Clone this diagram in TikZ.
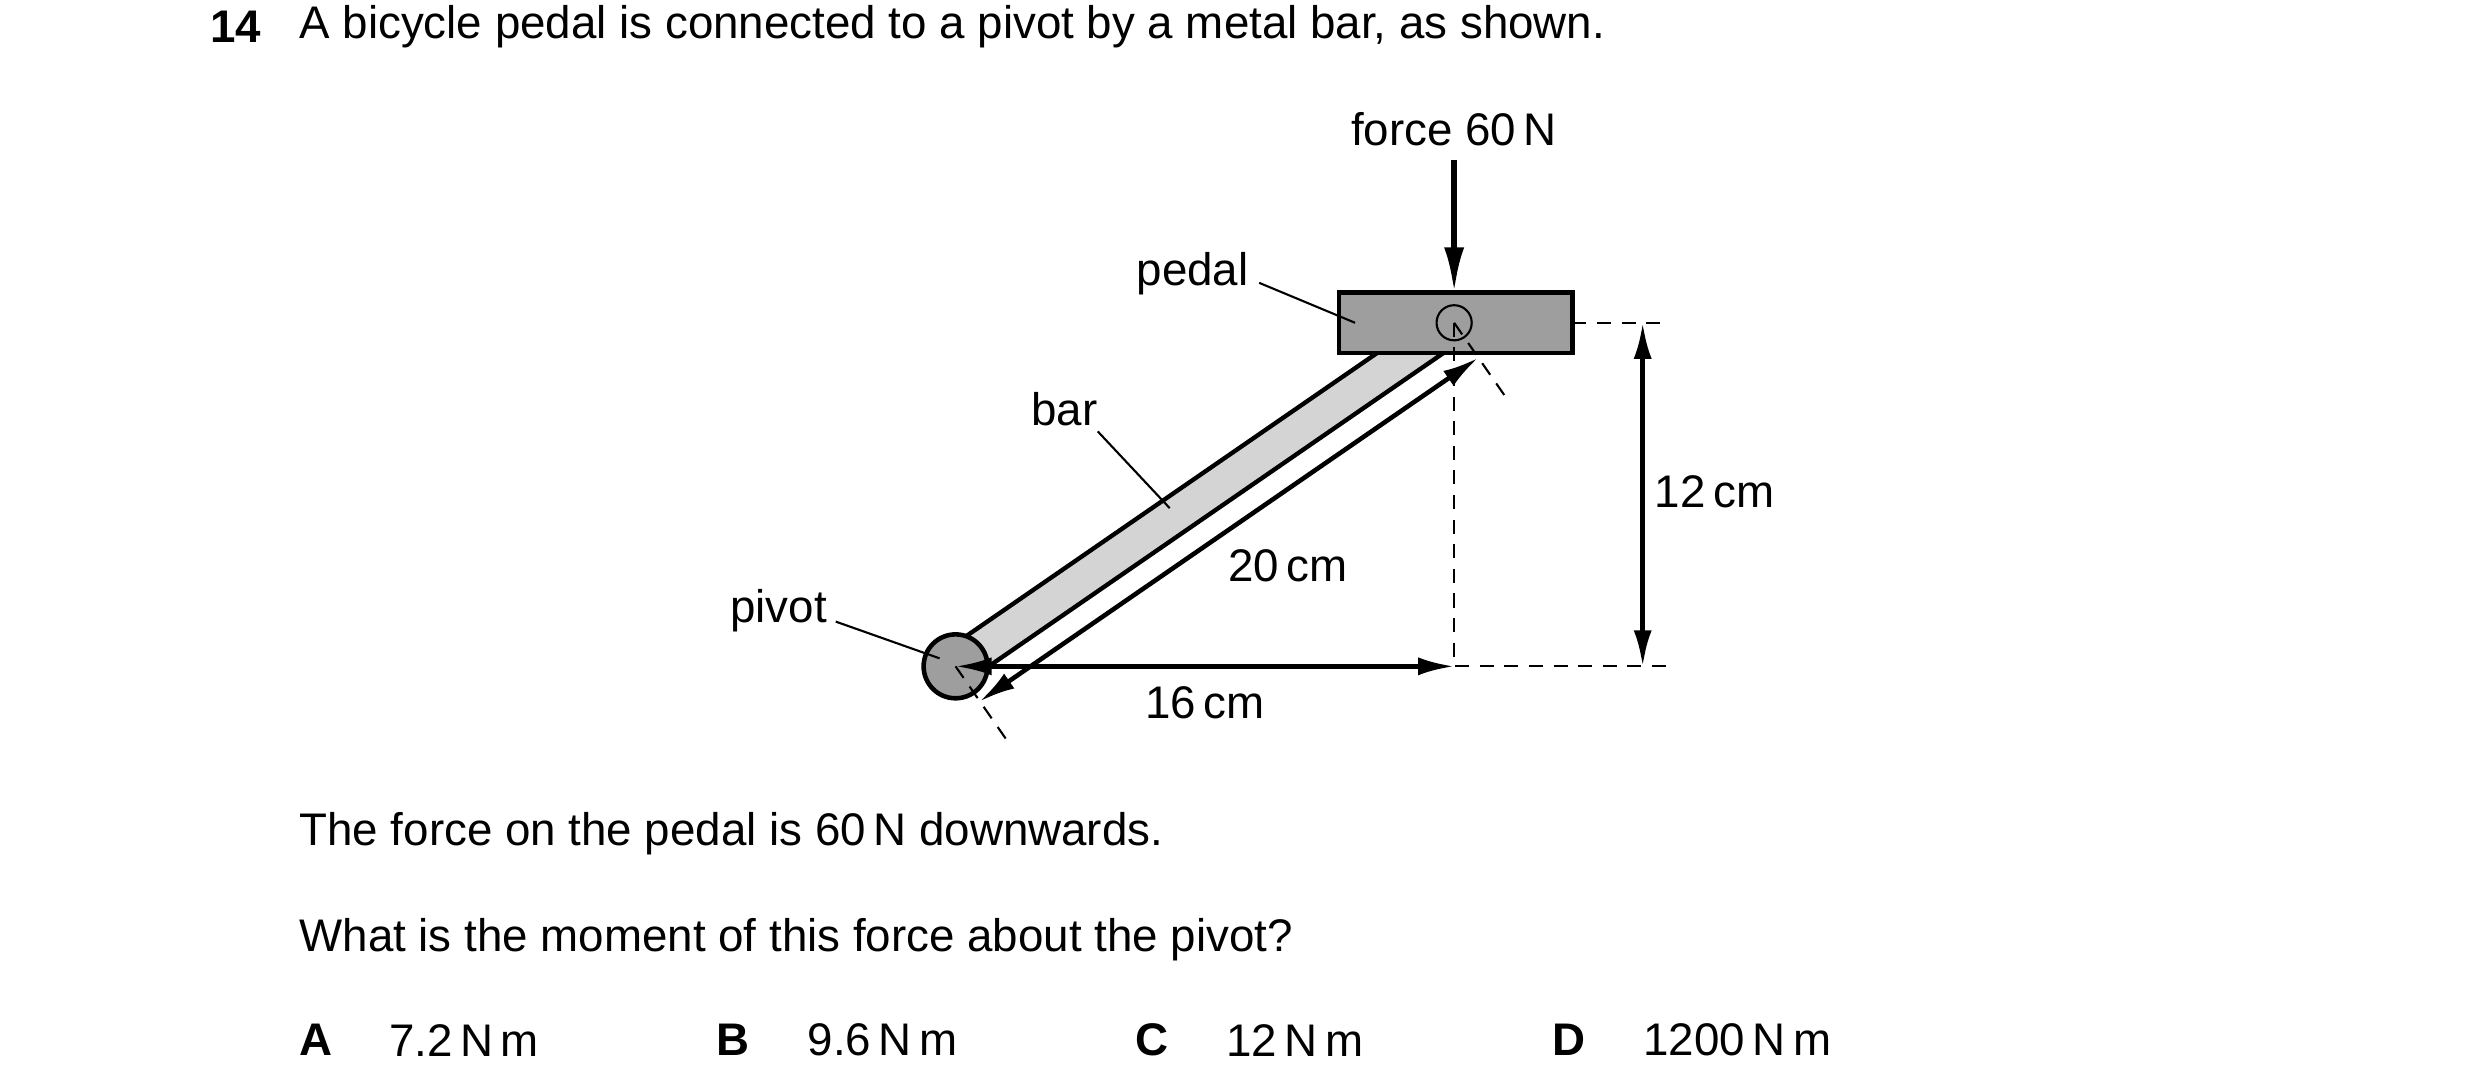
\documentclass[tikz,border=0pt]{standalone}
\usepackage{fontspec}
\setmainfont{Liberation Sans}
\usetikzlibrary{arrows.meta,calc}
\definecolor{pedalgrey}{gray}{0.62}
\definecolor{bargrey}{gray}{0.83}
\begin{document}
\begin{tikzpicture}[x=0.01598cm,y=-0.01598cm,
   txt/.style={inner sep=0pt,font=\fontsize{13}{16}\selectfont},
   lbl/.style={inner sep=1pt,font=\fontsize{13}{16}\selectfont},
   lead/.style={line width=0.6pt},
   dim/.style={line width=1.3pt,{Latex[length=0.36cm,width=0.18cm]}-{Latex[length=0.36cm,width=0.18cm]}},
   ext/.style={dashed,line width=0.6pt,dash pattern=on 4pt off 3pt}]
   \useasboundingbox (0,0) rectangle (1552,679);
   % text of the question
   \node[txt,anchor=west] (num) at (131,17) {\textbf{14}};
   \node[txt,anchor=west] (q) at (187,17) {A bicycle pedal is connected to a pivot by a metal bar, as shown.};
   \node[txt,anchor=west] (s1) at (187,522) {The force on the pedal is 60\,N downwards.};
   \node[txt,anchor=west] (s2) at (187,588) {What is the moment of this force about the pivot?};
   \node[txt,anchor=west] (oa) at (187,651) {\textbf{A}};
   \node[txt,anchor=west] (va) at (243,651) {7.2\,N\,m};
   \node[txt,anchor=west] (ob) at (448,651) {\textbf{B}};
   \node[txt,anchor=west] (vb) at (505,651) {9.6\,N\,m};
   \node[txt,anchor=west] (oc) at (710,651) {\textbf{C}};
   \node[txt,anchor=west] (vc) at (767,651) {12\,N\,m};
   \node[txt,anchor=west] (od) at (971,651) {\textbf{D}};
   \node[txt,anchor=west] (vd) at (1028,651) {1200\,N\,m};

   % points of the diagram
   \coordinate (piv) at (598,417);
   \coordinate (pc) at (910,202);
   \coordinate (foot) at (910,417);
   \coordinate (pivx) at (632,466);
   \coordinate (pcx) at (944,251);
   \coordinate (d1) at (613,439);
   \coordinate (d2) at (925,224);

   % bar
   \draw[line width=0.42cm] (piv) -- (pc);
   \draw[line width=0.33cm,bargrey] (piv) -- (pc);
   % pivot and pedal
   \draw[line width=1.3pt,fill=pedalgrey] (piv) circle (20);
   \draw[line width=1.3pt,fill=pedalgrey] (838,183) rectangle (984,221);
   \draw[line width=0.6pt] (pc) circle (11);

   % dashed guide lines
   \draw[ext] (pc) -- (foot) -- (1045,417);
   \draw[ext] (984,202) -- (1045,202);
   \draw[ext] (piv) -- (pivx);
   \draw[ext] (pc) -- (pcx);

   % dimensions
   \draw[dim] (d1) -- (d2);
   \draw[dim] (piv) -- (foot);
   \draw[dim] (1028,202) -- (1028,417);
   \node[lbl] (l20) at (806,354) {20\,cm};
   \node[lbl] (l16) at (754,440) {16\,cm};
   \node[lbl] (l12) at (1073,308) {12\,cm};

   % force
   \node[lbl] (force) at (910,81) {force 60\,N};
   \draw[line width=1.6pt,-{Latex[length=0.45cm,width=0.2cm]}] (910,100) -- (910,183);

   % labels
   \node[lbl,anchor=east] (pedal) at (784,171) {pedal};
   \draw[lead] (788,177) -- (848,202);
   \node[lbl] (bar) at (666,256) {bar};
   \draw[lead] (687,270) -- (732,318);
   \node[lbl,anchor=east] (pivot) at (520,382) {pivot};
   \draw[lead] (523,389) -- (588,412);
\end{tikzpicture}
\end{document}
